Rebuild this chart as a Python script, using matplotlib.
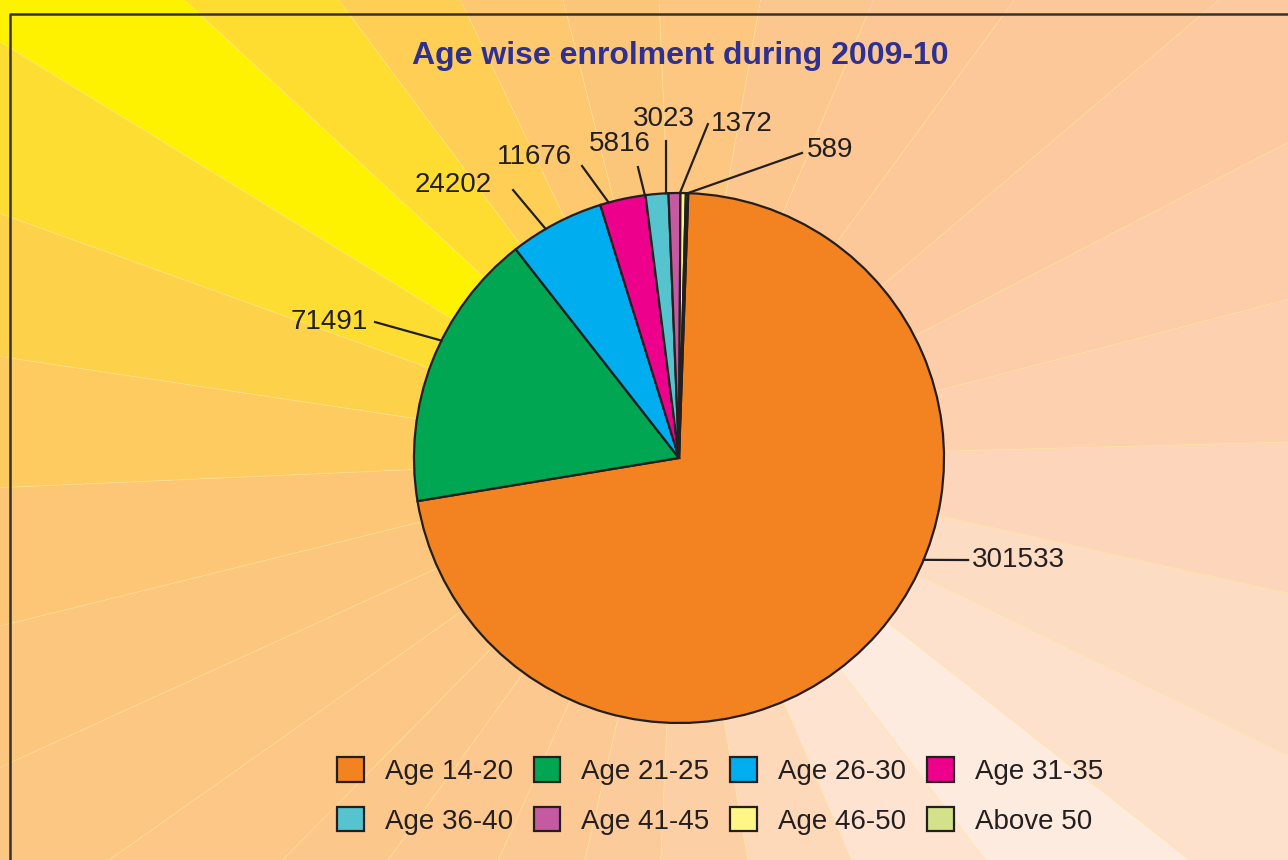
import matplotlib
matplotlib.use("Agg")
import matplotlib.pyplot as plt
import numpy as np
from matplotlib.patches import Wedge, Rectangle, Patch

plt.rcParams["font.family"] = ["Liberation Sans", "DejaVu Sans"]

# data
age_groups = ["Age 14-20", "Age 21-25", "Age 26-30", "Age 31-35",
              "Age 36-40", "Age 41-45", "Age 46-50", "Above 50"]
enrolment = [301533, 71491, 24202, 11676, 5816, 3023, 1372, 589]
slice_colors = ["#F38220", "#00A651", "#00AEEF", "#EC008C",
                "#55C4CE", "#C55AA2", "#FFF685", "#D3E28A"]

# label layout (pie radius = 1): rim anchor angle, leader end, text spot
label_anchor_deg = [-22.6, 153.7, 120.2, 105.4, 97.4, 92.8, 89.8, 88.1]
label_line_end = [(1.091, -0.385), (-1.147, 0.513), (-0.626, 1.011), (-0.366, 1.102),
                  (-0.155, 1.098), (-0.049, 1.196), (0.109, 1.260), (0.464, 1.151)]
label_text_pos = [(1.106, -0.385), (-1.174, 0.513), (-0.705, 1.030), (-0.405, 1.136),
                  (-0.223, 1.185), (-0.057, 1.279), (0.122, 1.262), (0.484, 1.162)]
label_ha = ["left", "right", "right", "right", "center", "center", "left", "left"]

# sunburst backdrop: ray edges (deg, counter-clockwise) and ray fills
ray_edges_deg = [1.5, 14.6, 27.4, 40.3, 53.8, 67, 79.9, 92.5, 104.2, 115.5, 126.6,
                 137.2, 148.5, 160.2, 171.5, 182.5, 193.9, 204.5, 215.2, 225.4, 234.1,
                 245.8, 256.8, 267.4, 279.7, 293.2, 307.3, 321.8, 334, 347.5, 361.5]
ray_colors = ["#FDD0AF", "#FCCDA8", "#FCC9A0", "#FCC89A", "#FCC794", "#FCC78E",
              "#FDC782", "#FCC67A", "#FDC870", "#FECE55", "#FFDD30", "#FFF200",
              "#FEDD33", "#FDD24A", "#FDCB5F", "#FCC676", "#FCC67E", "#FCC683",
              "#FCC787", "#FCC78A", "#FCC88F", "#FCC995", "#FCCB9C", "#FDCFA5",
              "#FDD9BA", "#FEE3D1", "#FEEBDF", "#FEE1CD", "#FDDCC4", "#FDD5BA"]

# page geometry in pixels
W, H = 1288, 860
CX, CY, R = 679, 458, 265
INK = "#231F20"


def px(x):
    return (x - CX) / R


def py(y):
    return (CY - y) / R


fig = plt.figure(figsize=(W / 100, H / 100), dpi=100)
ax = fig.add_axes([0, 0, 1, 1])

clip = Rectangle((px(10), py(H)), (W - 10) / R, (H - 14) / R, transform=ax.transData)
for t1, t2, shade in zip(ray_edges_deg[:-1], ray_edges_deg[1:], ray_colors):
    w = Wedge((0, 0), 8, t1, t2, facecolor=shade, edgecolor="none", zorder=0)
    w.set_clip_path(clip)
    ax.add_patch(w)
    a = np.radians(t1)
    ln, = ax.plot([0, 8 * np.cos(a)], [0, 8 * np.sin(a)], color="#FFE38A",
                  lw=0.7, alpha=0.6, zorder=0.5)
    ln.set_clip_path(clip)

ax.pie(enrolment, colors=slice_colors, startangle=88, counterclock=False,
       radius=1, center=(0, 0),
       wedgeprops=dict(edgecolor=INK, linewidth=1.6))

for val, ang, end, pos, ha in zip(enrolment, label_anchor_deg, label_line_end,
                                  label_text_pos, label_ha):
    a = np.radians(ang)
    ax.plot([np.cos(a), end[0]], [np.sin(a), end[1]], color=INK, lw=1.6, zorder=3)
    ax.text(pos[0], pos[1], str(val), ha=ha, va="center", fontsize=20, color=INK)

ax.text(px(680), py(56), "Age wise enrolment during 2009-10", ha="center", va="center",
        fontsize=23, fontweight="bold", color="#2E3192")

# frame on left and top
ax.plot([px(10), px(10), px(W)], [py(H), py(14), py(14)], color="#333333", lw=1.8,
        clip_on=False, zorder=4)

ax.set_xlim(px(0), px(W))
ax.set_ylim(py(H), py(0))
ax.set_aspect("auto")
ax.axis("off")

handles = [Patch(facecolor=c, edgecolor=INK, linewidth=1.6) for c in slice_colors]
order = [0, 4, 1, 5, 2, 6, 3, 7]
leg = fig.legend([handles[i] for i in order], [age_groups[i] for i in order],
                 ncol=4, loc="center", bbox_to_anchor=(720 / W, 1 - 796 / H),
                 frameon=False, fontsize=20, handlelength=0.97, handleheight=0.97,
                 handletextpad=0.75, columnspacing=0.75, labelspacing=0.8)
for t in leg.get_texts():
    t.set_color(INK)

fig.savefig("out.png", dpi=100)
